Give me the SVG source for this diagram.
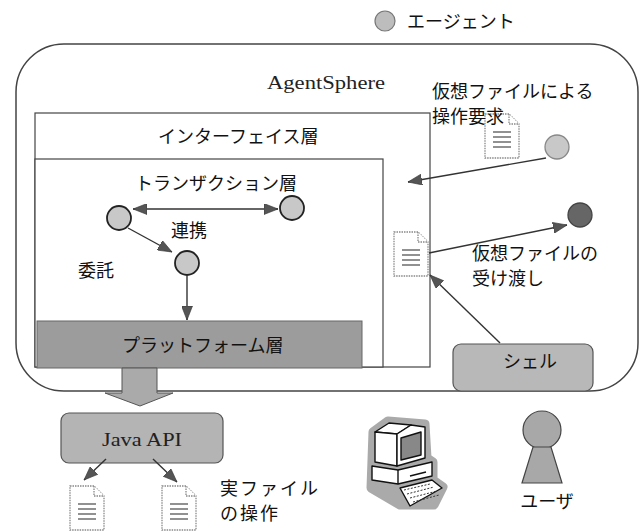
<svg xmlns="http://www.w3.org/2000/svg" width="642" height="531" viewBox="0 0 642 531">
  <style>
    .jp { font-family: "Noto Sans CJK JP", "Noto Sans", sans-serif; font-size: 18px; fill: #111; }
    .serif { font-family: "Liberation Serif", serif; font-size: 18px; fill: #222; }
    .frame { fill: none; stroke: #444; stroke-width: 1.5; }
    .box { fill: #fff; stroke: #444; stroke-width: 1.2; }
    .agent { fill: #c8c8c8; stroke: #222; stroke-width: 1.8; }
    .conn { fill: none; stroke: #333; stroke-width: 1.4; }
    .shaded { stroke: #555; stroke-width: 1.2; }
    .doc { fill: #fff; stroke: #888; stroke-width: 1.3; stroke-dasharray: 1.5 1; }
    .docline { stroke: #555; stroke-width: 1.3; }
  </style>
  <defs>
    <marker id="ah" viewBox="0 0 14 11" refX="14" refY="5.5" markerWidth="14" markerHeight="11" orient="auto-start-reverse" markerUnits="userSpaceOnUse">
      <path d="M0,0 L14,5.5 L0,11 z" fill="#555" stroke="#333" stroke-width="0.6"/>
    </marker>
    <!-- document icon: page with folded top-right corner and text lines -->
    <g id="docIcon">
      <path class="doc" d="M0,0 H24 L34,10 V44 H0 Z"/>
      <path class="doc" d="M24,0 V10 H34"/>
      <line class="docline" x1="8" y1="18" x2="26" y2="18"/>
      <line class="docline" x1="8" y1="23" x2="26" y2="23"/>
      <line class="docline" x1="8" y1="28" x2="26" y2="28"/>
      <line class="docline" x1="8" y1="33" x2="26" y2="33"/>
    </g>
  </defs>

  <!-- legend -->
  <g id="legend">
    <circle cx="385" cy="21" r="10" fill="#bdbdbd" stroke="#777" stroke-width="1.2"/>
    <text class="jp" x="407" y="28">エージェント</text>
  </g>

  <!-- AgentSphere boundary -->
  <g id="agentsphere">
    <rect class="frame" x="16" y="44" width="622" height="347" rx="48" ry="48"/>
    <text class="serif" x="267" y="89" textLength="118" lengthAdjust="spacingAndGlyphs">AgentSphere</text>
  </g>

  <!-- interface layer -->
  <g id="interface-layer">
    <rect class="box" x="35" y="113" width="395" height="254"/>
    <text class="jp" x="158" y="143">インターフェイス層</text>
  </g>

  <!-- transaction layer -->
  <g id="transaction-layer">
    <rect class="box" x="35" y="159" width="348" height="208"/>
    <text class="jp" x="135" y="190">トランザクション層</text>
  </g>

  <!-- platform layer -->
  <g id="platform-layer">
    <rect x="37" y="321" width="325" height="47" fill="#9c9c9c" stroke="#666" stroke-width="1"/>
    <text class="jp" x="122" y="352">プラットフォーム層</text>
  </g>

  <!-- agents inside the transaction layer -->
  <g id="agent-a"><circle class="agent" cx="119" cy="218" r="12"/></g>
  <g id="agent-b"><circle class="agent" cx="292" cy="208" r="12"/></g>
  <g id="agent-c"><circle class="agent" cx="187" cy="263" r="12"/></g>

  <!-- agents outside -->
  <g id="agent-request"><circle cx="557" cy="147" r="12" fill="#c8c8c8" stroke="#888" stroke-width="1.3"/></g>
  <g id="agent-receiver"><circle cx="580" cy="215" r="12" fill="#666" stroke="#444" stroke-width="1.3"/></g>

  <!-- virtual file documents -->
  <g id="doc-request"><use href="#docIcon" x="485" y="114"/></g>
  <g id="doc-virtual"><use href="#docIcon" x="394" y="232"/></g>

  <!-- shell -->
  <g id="shell">
    <rect class="shaded" x="453" y="344" width="140" height="47" rx="8" fill="#b8b8b8"/>
    <text class="jp" x="530" y="368" text-anchor="middle">シェル</text>
  </g>

  <!-- Java API -->
  <g id="java-api">
    <rect class="shaded" x="61" y="413" width="162" height="50" rx="8" fill="#b4b4b4"/>
    <text class="serif" x="142" y="446" text-anchor="middle" textLength="80" lengthAdjust="spacingAndGlyphs">Java API</text>
  </g>

  <!-- real files -->
  <g id="doc-real-1"><use href="#docIcon" x="70" y="486"/></g>
  <g id="doc-real-2"><use href="#docIcon" x="162" y="486"/></g>

  <!-- computer -->
  <g id="computer" stroke-linejoin="round">
    <g fill="#aaa" stroke="#aaa" stroke-width="9">
      <path d="M373,432 L388,421 L425,424 L427,458 L433,462 L433,480 L443,487 L434,505 L400,505 L371,488 Z"/>
    </g>
    <g fill="#fff" stroke="#111" stroke-width="1.4">
      <!-- monitor -->
      <path d="M375,432 L389,423 L411,425 L397,434 Z"/>
      <path d="M375,432 L397,434 L397,466 L375,462 Z"/>
      <path d="M397,434 L411,425 L425,427 L425,458 L397,466 Z"/>
      <path d="M401,438 L421,432 L421,455 L401,460 Z" fill="#888"/>
      <!-- base unit -->
      <path d="M372,466 L398,470 L432,462 L432,476 L398,484 L372,480 Z"/>
      <line x1="398" y1="470" x2="398" y2="484"/>
      <line x1="410" y1="476" x2="426" y2="472"/>
      <!-- keyboard -->
      <path d="M400,488 L432,480 L442,488 L410,506 Z"/>
      <path d="M404,490 L430,484 M407,494 L434,487 M410,498 L437,491 M413,502 L439,495" stroke="#333" stroke-width="1" stroke-dasharray="2 1.5"/>
    </g>
  </g>

  <!-- user -->
  <g id="user">
    <circle cx="542" cy="430" r="19" fill="#a8a8a8" stroke="#444" stroke-width="1.2"/>
    <path d="M533,447 L551,447 L562,483 L522,483 Z" fill="#a8a8a8" stroke="#444" stroke-width="1.2"/>
    <text class="jp" x="547" y="508" text-anchor="middle">ユーザ</text>
  </g>

  <!-- labels -->
  <g id="labels">
    <text class="jp" x="432" y="98">仮想ファイルによる</text>
    <text class="jp" x="432" y="123">操作要求</text>
    <text class="jp" x="472" y="260">仮想ファイルの</text>
    <text class="jp" x="472" y="285">受け渡し</text>
    <text class="jp" x="171" y="237">連携</text>
    <text class="jp" x="78" y="277">委託</text>
    <text class="jp" x="220" y="495" letter-spacing="2">実ファイル</text>
    <text class="jp" x="220" y="520" letter-spacing="2">の操作</text>
  </g>

  <!-- connectors -->
  <g id="connectors">
    <line class="conn" x1="133" y1="209" x2="278" y2="209" marker-start="url(#ah)" marker-end="url(#ah)"/>
    <line class="conn" x1="128" y1="228" x2="172" y2="252" marker-end="url(#ah)"/>
    <line class="conn" x1="187" y1="275" x2="187" y2="320" marker-end="url(#ah)"/>
    <line class="conn" x1="546" y1="158" x2="408" y2="182" marker-end="url(#ah)"/>
    <line class="conn" x1="429" y1="253" x2="567" y2="225" marker-end="url(#ah)"/>
    <line class="conn" x1="500" y1="343" x2="430" y2="275" marker-end="url(#ah)"/>
    <line class="conn" x1="106" y1="459" x2="84" y2="480" marker-end="url(#ah)"/>
    <line class="conn" x1="153" y1="459" x2="177" y2="482" marker-end="url(#ah)"/>
    <!-- platform to Java API block arrow -->
    <path d="M122,368 H157 V393 H173 L140,406 L105,393 H122 Z" fill="#aaa" stroke="#555" stroke-width="1"/>
  </g>
</svg>
